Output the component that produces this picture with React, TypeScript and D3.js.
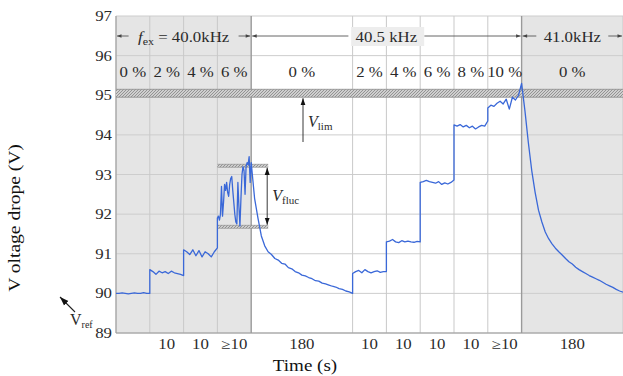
import * as d3 from 'd3'

// segment layout: duty steps (10 s each) and 180 s recovery phases
const segUnits = [1, 1, 1, 1, 3, 1, 1, 1, 1, 1, 3]
const dutyLabels = ['0 %', '2 %', '4 %', '6 %', '0 %', '2 %', '4 %', '6 %', '8 %', '10 %', '0 %']
const durationLabels = ['', '10', '10', '≥10', '180', '10', '10', '10', '10', '≥10', '180']
const freqLabels = ['40.0kHz', '40.5 kHz', '41.0kHz']
const freqSegRange = [[0, 3], [4, 9], [10, 10]]
const yTicks = [89, 90, 91, 92, 93, 94, 95, 96, 97]

// voltage drop samples (V), evenly spaced inside each segment
const v40_0 = [90.0, 90.0, 90.01, 90.0, 89.99, 90.0, 90.01, 90.0, 90.0, 90.02, 90.0, 90.0]
const v40_2 = [90.6, 90.55, 90.48, 90.56, 90.52, 90.55, 90.5, 90.56, 90.52, 90.5, 90.48, 90.45]
const v40_4 = [91.1, 91.05, 90.98, 91.1, 90.95, 91.08, 90.92, 91.05, 91.0, 90.92, 91.05, 91.15]
const v40_6 = [
  91.9, 91.95, 91.85, 92.0, 92.7, 91.95, 92.3, 92.75, 92.6, 92.8, 92.55, 92.45, 92.75, 92.9, 92.95, 92.6, 92.3,
  92.0, 91.8, 91.75, 92.8, 92.2, 91.7, 92.4, 93.0, 93.2, 93.1, 92.5, 93.2, 93.3, 93.25, 93.45, 92.8, 93.3
]
const vRecover1 = [
  93.3, 92.4, 91.9, 91.45, 91.2, 91.05, 90.98, 90.88, 90.84, 90.76, 90.74, 90.65, 90.62, 90.55, 90.52, 90.46,
  90.44, 90.4, 90.37, 90.32, 90.31, 90.26, 90.24, 90.21, 90.18, 90.16, 90.12, 90.1, 90.06, 90.04, 90.0
]
const v405_2 = [90.5, 90.55, 90.58, 90.52, 90.6, 90.55, 90.52, 90.55, 90.57, 90.53, 90.55, 90.55]
const v405_4 = [91.3, 91.32, 91.36, 91.3, 91.28, 91.33, 91.3, 91.32, 91.3, 91.29, 91.31, 91.3]
const v405_6 = [92.8, 92.82, 92.85, 92.82, 92.8, 92.78, 92.82, 92.75, 92.79, 92.76, 92.8, 92.86]
const v405_8 = [94.25, 94.22, 94.26, 94.2, 94.24, 94.18, 94.22, 94.15, 94.2, 94.24, 94.22, 94.35]
const v405_10 = [94.68, 94.75, 94.72, 94.8, 94.85, 94.78, 94.9, 94.65, 94.95, 94.88, 95.0, 95.3]
const vRecover2 = [
  95.3, 94.6, 93.8, 93.1, 92.55, 92.1, 91.8, 91.55, 91.38, 91.25, 91.14, 91.05, 90.97, 90.88, 90.8, 90.74,
  90.66, 90.6, 90.55, 90.5, 90.45, 90.41, 90.37, 90.33, 90.28, 90.23, 90.19, 90.15, 90.1, 90.06, 90.03
]
const segValues = [v40_0, v40_2, v40_4, v40_6, vRecover1, v405_2, v405_4, v405_6, v405_8, v405_10, vRecover2]

const W = 623
const H = 376
const serif = '"Liberation Serif", "Times New Roman", serif'

function SText({ x, y, size = 14, sx = 1.2, anchor = 'middle', fill = '#2a2a2a', children }: any) {
  return (
    <g transform={`translate(${x},${y}) scale(${sx},1)`}>
      <text textAnchor={anchor} fontSize={size} fontFamily={serif} fill={fill}>{children}</text>
    </g>
  )
}

export default function App() {
  const bounds = [0, ...d3.cumsum(segUnits)]
  const x = d3.scaleLinear().domain([0, d3.sum(segUnits)]).range([116, 623])
  const y = d3.scaleLinear().domain([89, 97]).range([333, 16])

  const points: [number, number][] = []
  segValues.forEach((vals, s) => {
    vals.forEach((v, i) => {
      points.push([bounds[s] + (segUnits[s] * i) / (vals.length - 1), v])
    })
  })
  const line = d3.line<[number, number]>().x(d => x(d[0])).y(d => y(d[1]))

  const shaded = [[bounds[0], bounds[4]], [bounds[10], bounds[11]]]
  const freqRowY = 36
  const labelHalf = [52, 35, 33]

  const flucTop = y(93.22)
  const flucBot = y(91.68)
  const flucX0 = x(bounds[3])
  const flucX1 = x(bounds[4]) + 17

  return (
    <svg width={W} height={H} style={{ position: 'absolute', left: 0, top: 0, background: '#fff' }}>
      <defs>
        <pattern id="hatch" width="3" height="3" patternUnits="userSpaceOnUse">
          <rect width="3" height="3" fill="#cfcfcf" />
          <path d="M0,3 L3,0" stroke="#8c8c8c" strokeWidth="0.9" />
        </pattern>
        <marker id="arrSmall" viewBox="0 0 10 10" refX="10" refY="5" markerWidth="6" markerHeight="5" orient="auto-start-reverse">
          <path d="M0,1 L10,5 L0,9 Z" fill="#444" />
        </marker>
        <marker id="arrBig" viewBox="0 0 10 10" refX="10" refY="5" markerWidth="8" markerHeight="8" orient="auto-start-reverse">
          <path d="M0,1.5 L10,5 L0,8.5 Z" fill="#111" />
        </marker>
      </defs>

      {shaded.map(([a, b], i) => (
        <rect key={i} x={x(a)} y={y(97)} width={x(b) - x(a)} height={y(89) - y(97)} fill="#e5e5e5" />
      ))}

      {yTicks.map(t => (
        <line key={t} x1={x(0)} x2={W} y1={y(t)} y2={y(t)} stroke="#cdcdcd" strokeWidth={1} />
      ))}
      {bounds.map((b, i) => (
        <line key={i} x1={x(b)} x2={x(b)} y1={y(97)} y2={y(89)}
          stroke={i === 4 || i === 10 ? '#9a9a9a' : '#c9c9c9'} strokeWidth={i === 4 || i === 10 ? 1.4 : 1} />
      ))}
      <line x1={x(0)} x2={x(0)} y1={y(97)} y2={y(89)} stroke="#9a9a9a" />
      <line x1={x(0)} x2={W} y1={y(89)} y2={y(89)} stroke="#9a9a9a" />

      {/* V_lim band */}
      <rect x={x(0)} y={y(95.15)} width={W - x(0)} height={y(94.95) - y(95.15)} fill="url(#hatch)" />
      <line x1={x(0)} x2={W} y1={y(95.15)} y2={y(95.15)} stroke="#8a8a8a" strokeWidth={0.8} />
      <line x1={x(0)} x2={W} y1={y(94.95)} y2={y(94.95)} stroke="#8a8a8a" strokeWidth={0.8} />

      {/* frequency row */}
      <rect x={x(bounds[4]) + 100} y={27} width={73} height={19} fill="#ededed" />
      {freqSegRange.map(([s0, s1], i) => {
        const a = x(bounds[s0]) + 1
        const b = x(bounds[s1 + 1]) - 1
        const c = (a + b) / 2
        return (
          <g key={i}>
            <line x1={a} x2={c - labelHalf[i] - 3} y1={freqRowY} y2={freqRowY} stroke="#555" strokeWidth={0.9} markerStart="url(#arrSmall)" />
            <line x1={c + labelHalf[i] + 3} x2={b} y1={freqRowY} y2={freqRowY} stroke="#555" strokeWidth={0.9} markerEnd="url(#arrSmall)" />
          </g>
        )
      })}
      <g transform={`translate(${(x(bounds[0]) + x(bounds[4])) / 2},42) scale(1.2,1)`}>
        <text textAnchor="middle" fontSize={14} fontFamily={serif} fill="#2a2a2a">
          <tspan fontStyle="italic">f</tspan>
          <tspan fontSize={10} dy={3}>ex</tspan>
          <tspan dy={-3}>{' = ' + freqLabels[0]}</tspan>
        </text>
      </g>
      <SText x={(x(bounds[4]) + x(bounds[10])) / 2} y={42}>{freqLabels[1]}</SText>
      <SText x={(x(bounds[10]) + x(bounds[11])) / 2} y={42}>{freqLabels[2]}</SText>

      {dutyLabels.map((d, i) => (
        <SText key={i} x={(x(bounds[i]) + x(bounds[i + 1])) / 2} y={77}>{d}</SText>
      ))}

      {/* V_fluc bands */}
      {[flucTop, flucBot].map((yy, i) => (
        <g key={i}>
          <rect x={flucX0} y={yy - 1.5} width={flucX1 - flucX0} height={3} fill="url(#hatch)" />
          <line x1={flucX0} x2={flucX1} y1={yy - 1.5} y2={yy - 1.5} stroke="#888" strokeWidth={0.6} />
          <line x1={flucX0} x2={flucX1} y1={yy + 1.5} y2={yy + 1.5} stroke="#888" strokeWidth={0.6} />
        </g>
      ))}

      <path d={line(points) || ''} fill="none" stroke="#3a68d8" strokeWidth={1.3} strokeLinejoin="round" />

      {/* annotations */}
      <line x1={flucX1 - 1} x2={flucX1 - 1} y1={flucTop + 2} y2={flucBot - 2} stroke="#222" strokeWidth={0.9}
        markerStart="url(#arrBig)" markerEnd="url(#arrBig)" />
      <g transform={`translate(${flucX1 + 4},${(flucTop + flucBot) / 2 + 5})`}>
        <text fontSize={16} fontFamily={serif} fill="#2a2a2a">
          <tspan fontStyle="italic">V</tspan>
          <tspan fontSize={11} dy={3}>fluc</tspan>
        </text>
      </g>

      <line x1={303} x2={303} y1={142} y2={y(94.95) + 1} stroke="#222" strokeWidth={0.9} markerEnd="url(#arrBig)" />
      <g transform="translate(308,127)">
        <text fontSize={16} fontFamily={serif} fill="#2a2a2a">
          <tspan fontStyle="italic">V</tspan>
          <tspan fontSize={11} dy={3}>lim</tspan>
        </text>
      </g>

      <line x1={75} x2={60} y1={312} y2={297} stroke="#222" strokeWidth={1.1} markerEnd="url(#arrBig)" />
      <g transform="translate(70,325)">
        <text fontSize={16} fontFamily={serif} fill="#2a2a2a">
          <tspan>V</tspan>
          <tspan fontSize={10} dy={3}>ref</tspan>
        </text>
      </g>

      {/* axes labels */}
      {yTicks.map(t => (
        <SText key={t} x={112} y={y(t) + 5} anchor="end" size={14} sx={1.2}>{t}</SText>
      ))}
      {durationLabels.map((d, i) => (
        <SText key={i} x={(x(bounds[i]) + x(bounds[i + 1])) / 2} y={349}>{d}</SText>
      ))}
      <SText x={305} y={371} size={17} sx={1.12} fill="#111">Time (s)</SText>
      <g transform="translate(20,218) rotate(-90) scale(1.15,1)">
        <text textAnchor="middle" fontSize={17} fontFamily={serif} fill="#111">V oltage drope (V)</text>
      </g>
    </svg>
  )
}
